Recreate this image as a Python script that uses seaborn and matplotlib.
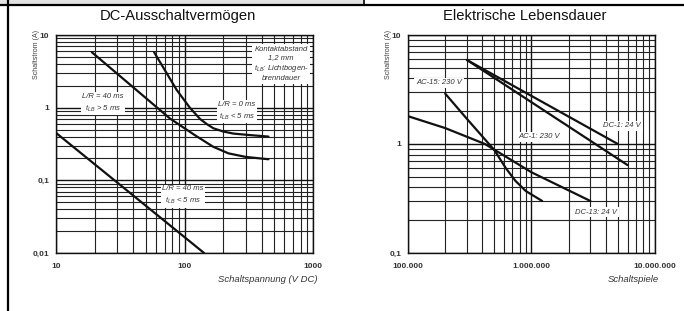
import matplotlib
matplotlib.use("Agg")
import matplotlib.pyplot as plt
from matplotlib.lines import Line2D
from matplotlib.patches import Rectangle
from matplotlib.ticker import FixedLocator, FixedFormatter, LogLocator, NullFormatter
import numpy as np
import seaborn as sns

# --- DC-Ausschaltvermögen ---------------------------------------------------
lr40_hi_v = [19, 38, 77, 120, 167, 220, 300, 450]
lr40_hi_i = [5.8, 2.05, 0.71, 0.42, 0.29, 0.235, 0.21, 0.195]
lr0_v = [58, 87, 110, 132, 150, 168, 200, 240, 320, 450]
lr0_i = [5.8, 1.75, 1.0, 0.70, 0.59, 0.52, 0.47, 0.44, 0.42, 0.40]
lr40_lo_v = [10, 142]
lr40_lo_i = [0.45, 0.01]

dc_xticks = [10, 100, 1000]
dc_xlabels = ["10", "100", "1000"]
dc_yticks = [0.01, 0.1, 1, 10]
dc_ylabels = ["0,01", "0,1", "1", "10"]

# --- Elektrische Lebensdauer ------------------------------------------------
dc1_n = [3.0e5, 5.0e6]
dc1_i = [5.9, 1.0]
ac1_n = [3.0e5, 6.0e6]
ac1_i = [5.9, 0.64]
ac15_n = [2.0e5, 3.0e5, 5.0e5, 6.2e5, 7.4e5, 9.0e5, 1.22e6]
ac15_i = [2.9, 1.7, 0.88, 0.60, 0.46, 0.37, 0.30]
dc13_n = [1.0e5, 2.0e5, 4.2e5, 1.0e6, 3.0e6]
dc13_i = [1.8, 1.4, 1.0, 0.55, 0.30]

el_xticks = [1e5, 1e6, 1e7]
el_xlabels = ["100.000", "1.000.000", "10.000.000"]
el_yticks = [0.1, 1, 10]
el_ylabels = ["0,1", "1", "10"]

sns.set_theme(style="white")
plt.rcParams["font.family"] = ["Liberation Sans", "DejaVu Sans"]

W, H = 684, 311
fig = plt.figure(figsize=(W / 100, H / 100), dpi=100)


def px_axes(x0, y0, x1, y1):
    return fig.add_axes([x0 / W, 1 - y1 / H, (x1 - x0) / W, (y1 - y0) / H])


def px_text(x, y, s, **kw):
    return fig.text(x / W, 1 - y / H, s, **kw)


def style_axes(ax, xlim, ylim, xt, xl, yt, yl):
    ax.set_xscale("log")
    ax.set_yscale("log")
    ax.set_xlim(*xlim)
    ax.set_ylim(*ylim)
    ax.xaxis.set_major_locator(FixedLocator(xt))
    ax.xaxis.set_major_formatter(FixedFormatter(xl))
    ax.yaxis.set_major_locator(FixedLocator(yt))
    ax.yaxis.set_major_formatter(FixedFormatter(yl))
    for axis in (ax.xaxis, ax.yaxis):
        axis.set_minor_locator(LogLocator(base=10, subs=np.arange(2, 10)))
        axis.set_minor_formatter(NullFormatter())
    ax.grid(which="major", color="#111111", lw=1.0)
    ax.grid(which="minor", color="#222222", lw=0.8)
    ax.tick_params(which="both", length=0, labelsize=6, colors="#333333")
    ax.tick_params(axis="x", pad=7)
    ax.tick_params(axis="y", pad=5)
    for lab in ax.get_xticklabels() + ax.get_yticklabels():
        lab.set_fontweight("bold")
    for sp in ax.spines.values():
        sp.set_color("#111111")
        sp.set_linewidth(1.0)
    ax.set_xlabel("")
    ax.set_ylabel("")


def curve(ax, x, y):
    sns.lineplot(x=x, y=y, ax=ax, color="#111111", lw=1.6,
                 sort=False, estimator=None, zorder=3)


box = dict(facecolor="white", edgecolor="none", pad=1.2)
note = dict(fontsize=5.5, style="italic", color="#333333",
            ha="center", va="center", linespacing=1.5, bbox=box, zorder=5)
tlb = "t$_\\mathregular{LB}$"

# left panel
ax1 = px_axes(56, 35, 313, 253)
curve(ax1, lr40_hi_v, lr40_hi_i)
curve(ax1, lr0_v, lr0_i)
curve(ax1, lr40_lo_v, lr40_lo_i)
style_axes(ax1, (10, 1000), (0.01, 10), dc_xticks, dc_xlabels, dc_yticks, dc_ylabels)
px_text(281, 64, f"Kontaktabstand\n1,2 mm\n{tlb}: Lichtbogen-\nbrenndauer",
        **dict(note, linespacing=1.25))
px_text(103, 103, f"L/R = 40 ms\n{tlb} > 5 ms", **note)
px_text(237, 111, f"L/R = 0 ms\n{tlb} < 5 ms", **note)
px_text(183, 196, f"L/R = 40 ms\n{tlb} < 5 ms", **note)
px_text(36, 30, "Schaltstrom (A)", rotation=90, ha="center", va="top",
        fontsize=5.1, color="#444444")
px_text(317, 279, "Schaltspannung (V DC)", ha="right", va="center",
        fontsize=6.8, style="italic", color="#333333")
px_text(178, 16, "DC-Ausschaltvermögen", ha="center", va="center",
        fontsize=10.6, color="#111111")

# right panel
ax2 = px_axes(408, 35, 655, 253)
curve(ax2, dc1_n, dc1_i)
curve(ax2, ac1_n, ac1_i)
curve(ax2, ac15_n, ac15_i)
curve(ax2, dc13_n, dc13_i)
style_axes(ax2, (1e5, 1e7), (0.1, 10), el_xticks, el_xlabels, el_yticks, el_ylabels)
px_text(439, 83, "AC-15: 230 V", **note)
px_text(539, 137, "AC-1: 230 V", **note)
px_text(622, 126, "DC-1: 24 V", **note)
px_text(596, 212, "DC-13: 24 V", **note)
px_text(388, 30, "Schaltstrom (A)", rotation=90, ha="center", va="top",
        fontsize=5.1, color="#444444")
px_text(659, 279, "Schaltspiele", ha="right", va="center",
        fontsize=6.8, style="italic", color="#333333")
px_text(525, 16, "Elektrische Lebensdauer", ha="center", va="center",
        fontsize=10.6, color="#111111")

# table frame around the panels
fig.add_artist(Rectangle((0, 1 - 4.5 / H), 363 / W, 4.5 / H, transform=fig.transFigure,
                         facecolor="#e3e3e3", edgecolor="none"))
fig.add_artist(Line2D([0, 1], [1 - 4.5 / H] * 2, transform=fig.transFigure,
                      color="black", lw=1.6))
fig.add_artist(Line2D([364 / W] * 2, [1 - 4.5 / H, 1], transform=fig.transFigure,
                      color="black", lw=1.2))
fig.add_artist(Line2D([8 / W] * 2, [0, 1], transform=fig.transFigure,
                      color="black", lw=1.6))

fig.savefig("out.png", dpi=100)
